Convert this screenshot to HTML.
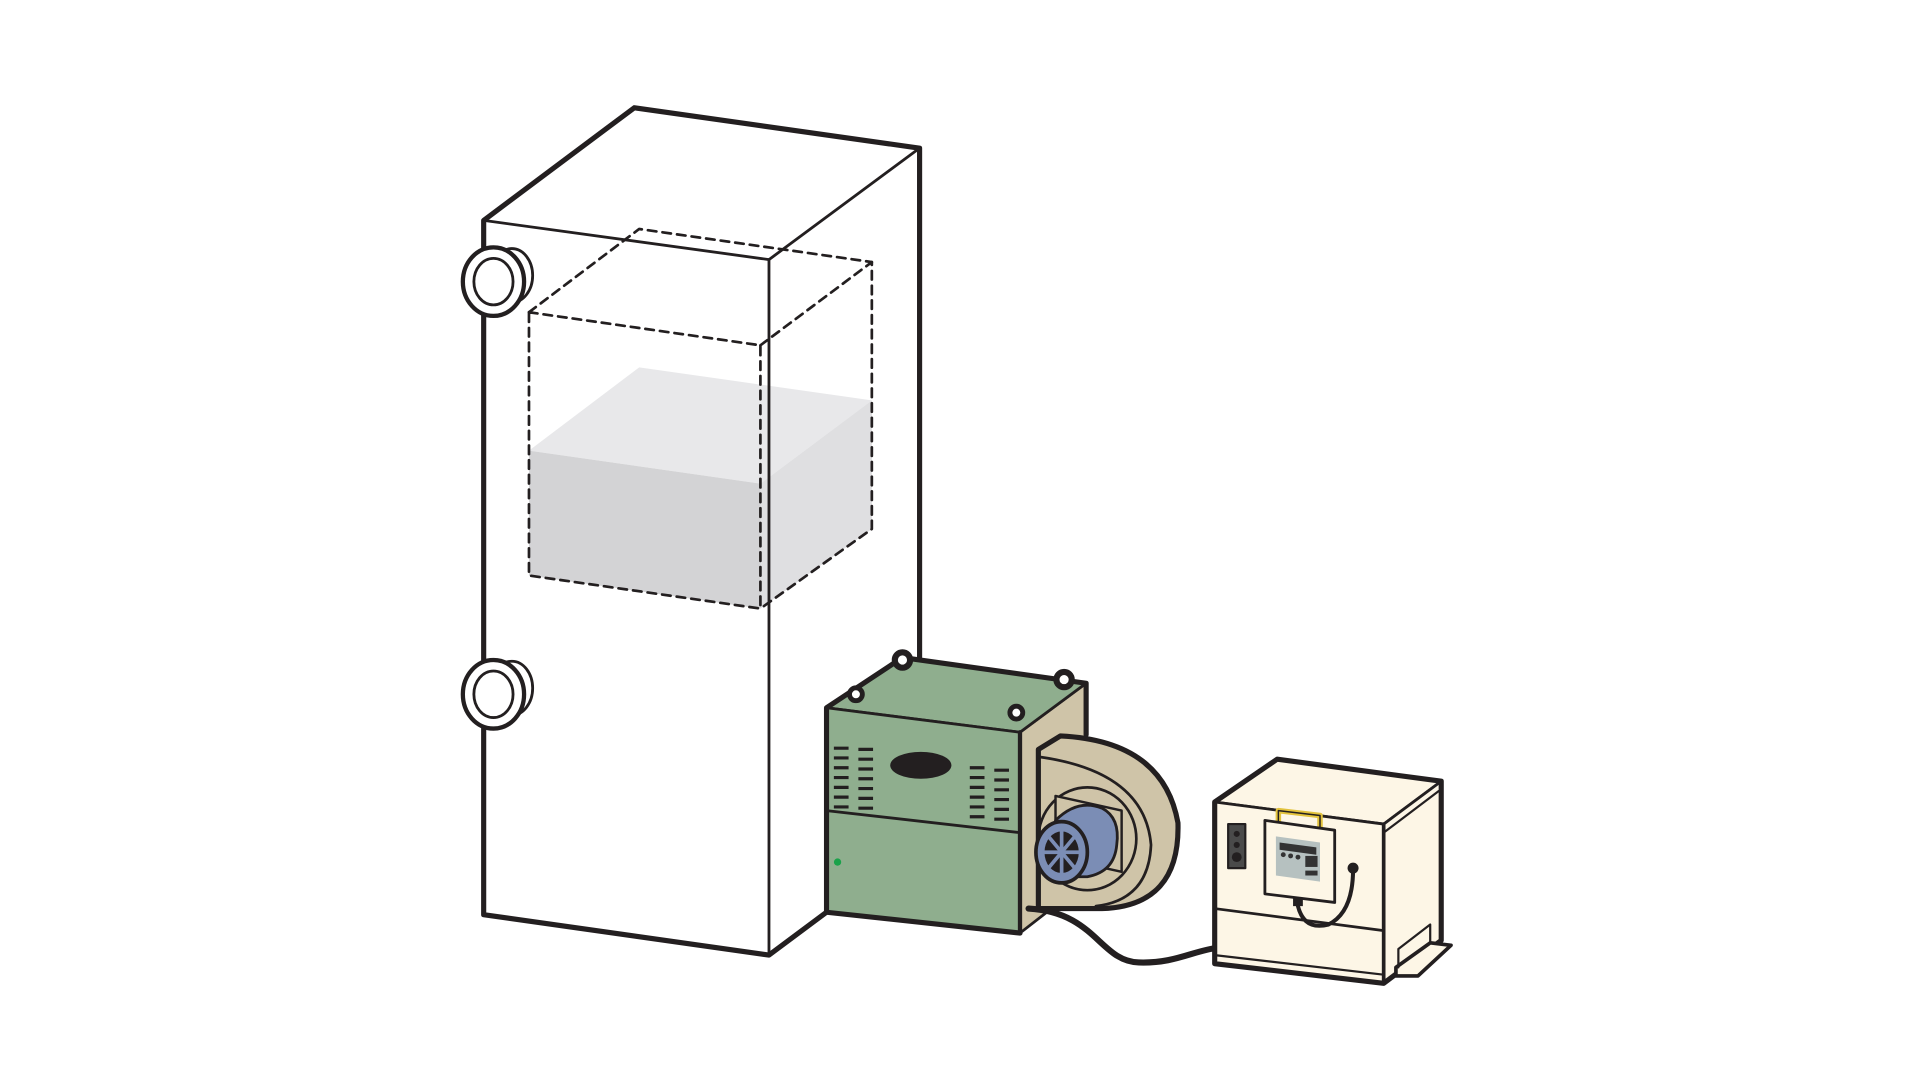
<!DOCTYPE html>
<html><head><meta charset="utf-8"><style>html,body{margin:0;padding:0;background:#fff;overflow:hidden}svg{display:block}</style></head>
<body>
<svg width="1920" height="1080" viewBox="0 0 1568 882" preserveAspectRatio="none" xmlns="http://www.w3.org/2000/svg">
<rect width="1568" height="882" fill="#fff"/>
<g stroke="#231f20" stroke-linejoin="round" stroke-linecap="round">
<polygon points="395,180 518,88 751,121 751,745 675,745 628,780 395,747" fill="#fff" stroke="none"/>
<polygon points="432,368 522,300 712,327 621,395" fill="#e8e8ea" stroke="none"/>
<polygon points="432,368 621,395 621,497 432,470" fill="#d3d3d5" stroke="none"/>
<polygon points="621,395 712,327 712,432 621,497" fill="#dfdfe1" stroke="none"/>
<g fill="none" stroke-width="2.2" stroke-dasharray="7,5">
<polyline points="432,255 621,282 621,497 432,470 432,255"/>
<polyline points="432,255 522,187 712,214 712,432 621,497"/>
<line x1="621" y1="282" x2="712" y2="214"/>
</g>
<g fill="none" stroke-width="2.3">
<polyline points="395,180 628,212 751,121"/>
<line x1="628" y1="212" x2="628" y2="780"/>
</g>
<polyline points="751,545 751,121 518,88 395,180 395,747 628,780 675,745" fill="none" stroke-width="4.2"/>
<g>
<ellipse cx="418" cy="225" rx="17" ry="22" fill="#fff" stroke-width="2.3"/>
<ellipse cx="403" cy="230" rx="25" ry="28" fill="#fff" stroke-width="3.5"/>
<ellipse cx="403" cy="230" rx="16" ry="19" fill="#fff" stroke-width="2.3"/>
<ellipse cx="418" cy="562" rx="17" ry="22" fill="#fff" stroke-width="2.3"/>
<ellipse cx="403" cy="567" rx="25" ry="28" fill="#fff" stroke-width="3.5"/>
<ellipse cx="403" cy="567" rx="16" ry="19" fill="#fff" stroke-width="2.3"/>
</g>
<polygon points="833,598 887,558 887,720 833,762" fill="#cfc4a8" stroke-width="2.3"/>
<polygon points="675,578 737,537 887,558 833,598" fill="#8fae8e" stroke-width="2.3"/>
<polygon points="675,578 833,598 833,762 675,745" fill="#8fae8e" stroke-width="2.3"/>
<line x1="675" y1="662" x2="833" y2="680" stroke-width="2.3"/>
<polyline points="833,762 675,745 675,578 737,537 887,558 887,600" fill="none" stroke-width="4.2"/>
<line x1="833" y1="598" x2="833" y2="762" stroke-width="3.5"/>
<ellipse cx="752" cy="625" rx="25" ry="11" fill="#231f20" stroke="none"/>
<g stroke-width="2.6" stroke-linecap="butt">
<path d="M681,611h12M701,612h12M681,619h12M701,620h12M681,627h12M701,628h12M681,635h12M701,636h12M681,643h12M701,644h12M681,651h12M701,652h12M681,659h12M701,660h12"/>
<path d="M792,627h12M812,629h12M792,635h12M812,637h12M792,643h12M812,645h12M792,651h12M812,653h12M792,659h12M812,661h12M792,667h12M812,669h12"/>
</g>
<circle cx="684" cy="704" r="3" fill="#1aa24a" stroke="none"/>
<g fill="#fff" stroke-width="1.5">
<circle cx="737" cy="539" r="8" fill="#231f20"/><circle cx="737" cy="539" r="4.5"/>
<circle cx="699" cy="567" r="6.5" fill="#231f20"/><circle cx="699" cy="567" r="4"/>
<circle cx="869" cy="555" r="8" fill="#231f20"/><circle cx="869" cy="555" r="4.5"/>
<circle cx="830" cy="582" r="6.5" fill="#231f20"/><circle cx="830" cy="582" r="4"/>
</g>
<path d="M848,612 L866,601 Q950,605 962,672 Q964,740 900,742 L848,742 Z" fill="#cfc4a8" stroke-width="4.2"/>
<path d="M848,612 L848,742" fill="none" stroke-width="2.3"/>
<path d="M848,618 Q935,630 940,690 Q938,735 895,740" fill="none" stroke-width="2.2"/>
<ellipse cx="888" cy="685" rx="40" ry="42" fill="none" stroke-width="2.2"/>
<polygon points="862,650 916,662 916,712 862,700" fill="#cfc4a8" stroke-width="2"/>
<path d="M862,670 Q880,652 900,660 Q915,668 912,690 Q910,712 888,716 L870,716 Z" fill="#7b8db5" stroke-width="2.3"/>
<ellipse cx="867" cy="696" rx="21" ry="25" fill="#7b8db5" stroke-width="3"/>
<ellipse cx="867" cy="696" rx="14" ry="17" fill="#231f20" stroke="none"/>
<g stroke="#7b8db5" stroke-width="3">
<line x1="853" y1="696" x2="881" y2="696"/><line x1="867" y1="679" x2="867" y2="713"/>
<line x1="857" y1="684" x2="877" y2="708"/><line x1="877" y1="684" x2="857" y2="708"/>
</g>
<path d="M840,742 C895,745 898,785 930,786 C960,787 975,776 995,774" fill="none" stroke-width="5"/>
<polygon points="992,655 1043,620 1177,638 1130,673" fill="#fdf6e6" stroke-width="2.3"/>
<polygon points="1130,673 1177,638 1177,768 1130,803" fill="#fdf6e6" stroke-width="2.3"/>
<polygon points="992,655 1130,673 1130,803 992,787" fill="#fdf6e6" stroke-width="2.3"/>
<line x1="1130" y1="680" x2="1175" y2="646" stroke-width="1.8"/>
<line x1="992" y1="742" x2="1130" y2="760" stroke-width="2.2"/>
<line x1="992" y1="780" x2="1130" y2="796" stroke-width="1.8"/>
<polyline points="1130,803 992,787 992,655 1043,620 1177,638 1177,768 1130,803" fill="none" stroke-width="4.2"/>
<line x1="1130" y1="673" x2="1130" y2="803" stroke-width="3"/>
<polygon points="1140,790 1168,770 1185,772 1158,797 1140,797" fill="#fdf6e6" stroke-width="3"/>
<polyline points="1142,790 1142,775 1168,755 1168,770" fill="none" stroke-width="1.8"/>
<rect x="1003" y="673" width="14" height="36" fill="#4a4a4a" stroke-width="1.8"/>
<circle cx="1010" cy="681" r="2.5" fill="#231f20" stroke="none"/>
<circle cx="1010" cy="690" r="2.5" fill="#231f20" stroke="none"/>
<circle cx="1010" cy="700" r="4" fill="#231f20" stroke="none"/>
<path d="M1044,673 L1044,662 L1078,666 L1078,677" fill="none" stroke="#e2c23c" stroke-width="4.5"/>
<path d="M1044,673 L1044,662 L1078,666 L1078,677" fill="none" stroke-width="1.2"/>
<polygon points="1033,670 1090,678 1090,737 1033,730" fill="#fdf6e6" stroke-width="2.3"/>
<polygon points="1042,683 1078,688 1078,720 1042,715" fill="#b6c1c0" stroke="none"/>
<polygon points="1045,688 1075,692 1075,698 1045,694" fill="#333" stroke="none"/>
<circle cx="1048" cy="698" r="2" fill="#333" stroke="none"/><circle cx="1054" cy="699" r="2" fill="#333" stroke="none"/><circle cx="1060" cy="700" r="2" fill="#333" stroke="none"/>
<rect x="1066" y="699" width="10" height="9" fill="#333" stroke="none"/>
<rect x="1066" y="711" width="10" height="4" fill="#333" stroke="none"/>
<rect x="1056" y="733" width="8" height="7" fill="#231f20" stroke="none"/>
<path d="M1060,740 Q1065,760 1085,755 Q1105,745 1105,710" fill="none" stroke-width="3.3"/>
<circle cx="1105" cy="709" r="4.5" fill="#231f20" stroke="none"/>
</g>
</svg>
</body></html>
